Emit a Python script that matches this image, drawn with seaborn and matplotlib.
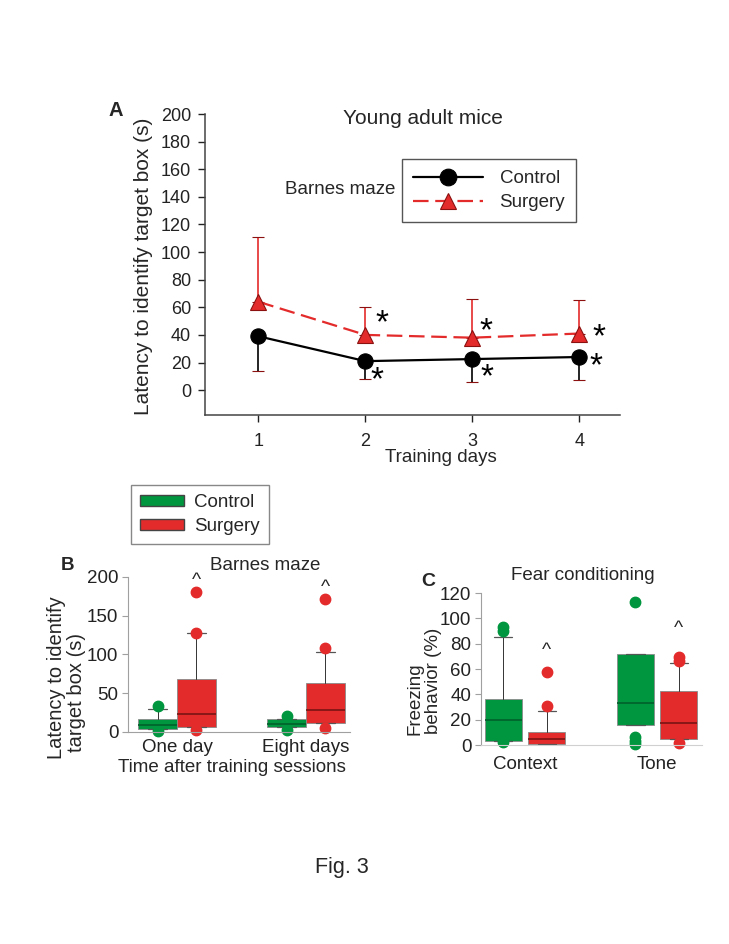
import numpy as np
import pandas as pd
import seaborn as sns
import matplotlib.pyplot as plt
from matplotlib.patches import Patch

# ---- Panel A: Barnes maze, latency per training day (mean, one-sided SD)
days = [1, 2, 3, 4]
ctrl_mean = [39, 21, 22.5, 24]
ctrl_sd = [25.5, 13, 16.5, 17]
surg_mean = [64, 40, 38, 41]
surg_sd = [47, 20, 28, 24]

# ---- Panel B: Barnes maze boxes (One day, Eight days)
b_groups = ["One day", "Eight days"]
b_ctrl_q1 = [4, 6.5]
b_ctrl_med = [9.5, 10]
b_ctrl_q3 = [17, 17]
b_ctrl_whishi = [30, 17]
b_ctrl_fliers = [[34, 1], [21, 2]]
b_surg_q1 = [7, 11.5]
b_surg_med = [23, 28]
b_surg_q3 = [69, 63]
b_surg_whishi = [128, 103]
b_surg_fliers = [[180, 128, 2], [172, 108, 5]]
b_caret_y = [195, 187]

# ---- Panel C: Fear conditioning boxes (Context, Tone)
c_groups = ["Context", "Tone"]
c_ctrl_q1 = [3, 16]
c_ctrl_med = [20, 33]
c_ctrl_q3 = [36, 72]
c_ctrl_whishi = [85, 72]
c_ctrl_fliers = [[93, 90, 2], [113, 6, 3, 0.5]]
c_surg_q1 = [1, 5]
c_surg_med = [5, 17]
c_surg_q3 = [10, 43]
c_surg_whishi = [27, 64.5]
c_surg_fliers = [[58, 31], [69.5, 66, 1.5]]
c_caret_y = [75, 92]

GREEN = "#00963F"
RED = "#E42B2B"
DKGREEN = "#00602A"
DKRED = "#7A1414"
FS = 13.5

sns.set_style("ticks")
plt.rcParams["font.family"] = ["Liberation Sans", "DejaVu Sans"]

W, H = 729, 944
fig = plt.figure(figsize=(W / 100, H / 100), dpi=100)


def px(x, y):
    # pixel position in the picture -> figure fraction
    return x / W, 1 - y / H


# ================= Panel A =================
axA = fig.add_axes([0.2812, 0.5604, 0.5693, 0.3188])
df = pd.DataFrame({
    "day": days + days,
    "latency": ctrl_mean + surg_mean,
    "group": ["Control"] * 4 + ["Surgery"] * 4,
})
axA.errorbar(days, ctrl_mean, yerr=[ctrl_sd, [0] * 4], fmt="none",
             ecolor="black", elinewidth=1.2, capsize=4, capthick=1.2, zorder=1)
axA.errorbar(days, surg_mean, yerr=[[0] * 4, surg_sd], fmt="none",
             ecolor=RED, elinewidth=1.2, capsize=4, capthick=1.2, zorder=1)
sns.lineplot(data=df, x="day", y="latency", hue="group", style="group",
             palette={"Control": "black", "Surgery": RED},
             markers={"Control": "o", "Surgery": "^"},
             dashes={"Control": "", "Surgery": (7, 3)},
             markersize=11, linewidth=1.6, ax=axA, zorder=3)
for ln in axA.get_lines():
    c = ln.get_color()
    ln.set_markeredgecolor("black" if c == "black" else "#8B1010")
    ln.set_markeredgewidth(0.8)
handles, labels = axA.get_legend_handles_labels()
for h in handles:
    h.set_markeredgecolor("black" if h.get_color() == "black" else "#8B1010")
    h.set_markersize(12)
axA.legend(handles, labels, loc="upper left", bbox_to_anchor=px(402, 159),
           bbox_transform=fig.transFigure, borderaxespad=0, fancybox=False,
           edgecolor="#555555", framealpha=1, fontsize=FS, handlelength=3.7,
           handletextpad=0.9, borderpad=0.6, labelspacing=0.35)
axA.get_legend().get_frame().set_linewidth(1.0)

axA.set_xlim(0.5, 4.38)
axA.set_ylim(-18, 200)
axA.set_yticks(np.arange(0, 201, 20))
axA.set_xticks(days)
axA.tick_params(labelsize=13, colors="#222222", length=5, width=1)
axA.tick_params(axis="x", pad=8)
axA.tick_params(axis="y", pad=5)
axA.set_xlabel("Training days", fontsize=FS)
axA.xaxis.set_label_coords(0.569, -0.14)
axA.xaxis.label.set_va("center")
axA.set_ylabel("Latency to identify target box (s)", fontsize=15)
axA.yaxis.set_label_coords(-0.149, 0.495)
axA.yaxis.label.set_va("center")
for s in ["top", "right"]:
    axA.spines[s].set_visible(False)
for s in ["left", "bottom"]:
    axA.spines[s].set_color("#444444")
    axA.spines[s].set_linewidth(1.1)

star_kw = dict(fontsize=24, ha="center", va="center", color="black")
for x, y in [(2.11, 7), (3.14, 9), (4.16, 17)]:
    axA.text(x, y, "*", **star_kw)
for x, y in [(2.15, 48), (3.13, 42), (4.18, 38)]:
    axA.text(x, y, "*", **star_kw)

fig.text(*px(116, 110), "A", fontsize=14.5, fontweight="bold", ha="center", va="center")
fig.text(*px(423, 118), "Young adult mice", fontsize=15, ha="center", va="center")
fig.text(*px(340, 190), "Barnes maze", fontsize=FS, ha="center", va="center")


def draw_boxes(ax, pos, width, q1, med, q3, whishi, fliers, color, dk):
    stats = []
    for i in range(len(pos)):
        stats.append({"q1": q1[i], "med": med[i], "q3": q3[i],
                      "whislo": q1[i], "whishi": whishi[i],
                      "fliers": fliers[i]})
    ax.bxp(stats, positions=pos, widths=width, patch_artist=True,
           boxprops=dict(facecolor=color, edgecolor="#8a8a8a", linewidth=0.6),
           medianprops=dict(color=dk, linewidth=1.2),
           whiskerprops=dict(color="#333333", linewidth=0.7),
           capprops=dict(color="#555555", linewidth=0.9),
           flierprops=dict(marker="o", markerfacecolor=color,
                           markeredgecolor=color, markersize=7.5),
           manage_ticks=False)


def style_box_axes(ax, xpad):
    for s in ["top", "right"]:
        ax.spines[s].set_visible(False)
    for s in ["left", "bottom"]:
        ax.spines[s].set_color("#a0a0a0")
        ax.spines[s].set_linewidth(0.8)
    ax.tick_params(axis="y", labelsize=FS, colors="#a0a0a0", labelcolor="#222222",
                   length=4, width=0.8, pad=3)
    ax.tick_params(axis="x", labelsize=FS, length=0, labelcolor="#222222", pad=xpad)
    for c in ax.collections + ax.lines:
        c.set_clip_on(False)


# ================= Panel B =================
axB = fig.add_axes([0.1756, 0.2246, 0.3045, 0.1642])
xb = np.arange(1, len(b_groups) + 1)
draw_boxes(axB, xb - 0.15, 0.3, b_ctrl_q1, b_ctrl_med, b_ctrl_q3,
           b_ctrl_whishi, b_ctrl_fliers, GREEN, DKGREEN)
draw_boxes(axB, xb + 0.15, 0.3, b_surg_q1, b_surg_med, b_surg_q3,
           b_surg_whishi, b_surg_fliers, RED, DKRED)
axB.set_xlim(0.62, 2.34)
axB.set_ylim(0, 200)
axB.set_yticks([0, 50, 100, 150, 200])
axB.set_xticks(xb)
axB.set_xticklabels(b_groups)
axB.set_xlabel("Time after training sessions", fontsize=FS)
axB.xaxis.set_label_coords(0.468, -0.228)
axB.xaxis.label.set_va("center")
style_box_axes(axB, 5)
for x, y in zip(xb + 0.15, b_caret_y):
    axB.text(x, y, "^", fontsize=14, ha="center", va="center")

fig.text(*px(57, 678), "Latency to identify", fontsize=14.5, rotation=90,
         ha="center", va="center", rotation_mode="anchor")
fig.text(*px(77, 693), "target box (s)", fontsize=14.5, rotation=90,
         ha="center", va="center", rotation_mode="anchor")

axB.legend(handles=[Patch(facecolor=GREEN, edgecolor="#444444", label="Control"),
                    Patch(facecolor=RED, edgecolor="#444444", label="Surgery")],
           loc="upper left", bbox_to_anchor=px(131, 485),
           bbox_transform=fig.transFigure, borderaxespad=0, fancybox=False,
           edgecolor="#888888", framealpha=1, fontsize=FS, handlelength=2.3,
           handleheight=0.55, handletextpad=0.55, borderpad=0.5, labelspacing=0.35)

fig.text(*px(68, 566), "B", fontsize=13.5, fontweight="bold", ha="center", va="center")
fig.text(*px(265, 566), "Barnes maze", fontsize=FS, ha="center", va="center")

# ================= Panel C =================
axC = fig.add_axes([0.6598, 0.2108, 0.3032, 0.161])
xc = np.arange(1, len(c_groups) + 1)
draw_boxes(axC, xc - 0.165, 0.28, c_ctrl_q1, c_ctrl_med, c_ctrl_q3,
           c_ctrl_whishi, c_ctrl_fliers, GREEN, DKGREEN)
draw_boxes(axC, xc + 0.165, 0.28, c_surg_q1, c_surg_med, c_surg_q3,
           c_surg_whishi, c_surg_fliers, RED, DKRED)
axC.set_xlim(0.667, 2.34)
axC.set_ylim(0, 120)
axC.set_yticks(np.arange(0, 121, 20))
axC.set_xticks(xc)
axC.set_xticklabels(c_groups)
style_box_axes(axC, 8)
axC.spines["bottom"].set_color("#d0d0d0")
for x, y in zip(xc + 0.165, c_caret_y):
    axC.text(x, y, "^", fontsize=14, ha="center", va="center")

fig.text(*px(415, 699), "Freezing", fontsize=FS, rotation=90,
         ha="center", va="center", rotation_mode="anchor")
fig.text(*px(433, 681), "behavior (%)", fontsize=FS, rotation=90,
         ha="center", va="center", rotation_mode="anchor")

fig.text(*px(428, 581), "C", fontsize=14, fontweight="bold", ha="center", va="center")
fig.text(*px(583, 575), "Fear conditioning", fontsize=FS, ha="center", va="center")

fig.text(*px(342, 867), "Fig. 3", fontsize=15.5, ha="center", va="center")

fig.savefig("out.png", dpi=100, facecolor="white")
